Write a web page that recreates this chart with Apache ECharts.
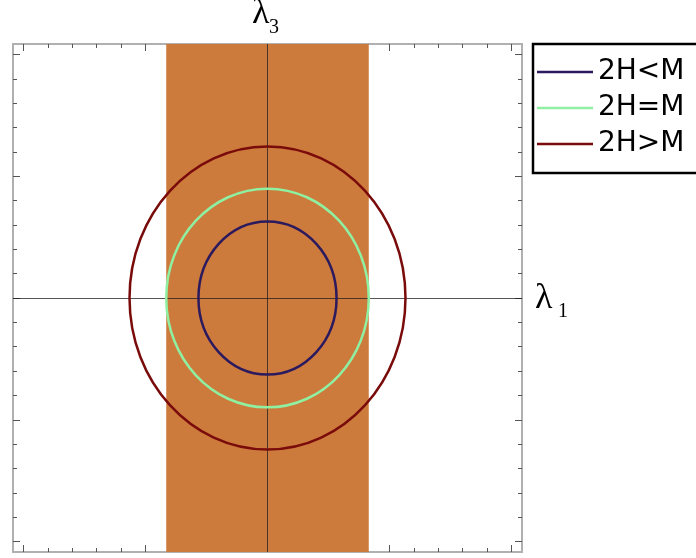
<!DOCTYPE html>
<html>
<head>
<meta charset="utf-8">
<script src="https://cdn.jsdelivr.net/npm/echarts@6/dist/echarts.min.js"></script>
<style>
  html, body { margin: 0; padding: 0; background: #fff; }
  #chart { width: 696px; height: 558px; }
</style>
</head>
<body>
<div id="chart"></div>
<script>
// data
const seriesNames = ["2H<M", "2H=M", "2H>M"];
const seriesColors = ["#2b1a5e", "#8ff0a2", "#7a0b0b"];
const radiusX = [0.566, 0.83, 1.131];
const radiusY = [0.629, 0.898, 1.245];
const bandHalfWidth = [0.83];
const axisMin = -2.086;
const axisMax = 2.086;
const majorTicks = [-2, -1, 0, 1, 2];
const minorTicks = [-1.8, -1.6, -1.4, -1.2, -0.8, -0.6, -0.4, -0.2,
  0.2, 0.4, 0.6, 0.8, 1.2, 1.4, 1.6, 1.8];

let myChart = echarts.init(document.getElementById("chart"));

function frameAxis(pos, values, len, showLine) {
  return {
    type: "value",
    position: pos,
    min: axisMin,
    max: axisMax,
    axisLine: { show: showLine, onZero: false, lineStyle: { color: "#b0b0b0", width: 2 } },
    axisTick: {
      show: true,
      inside: true,
      length: len,
      customValues: values,
      lineStyle: { color: "#555", width: 1 },
    },
    axisLabel: { show: false },
    splitLine: { show: false },
    minorTick: { show: false },
  };
}

function ellipseSeries(i) {
  return {
    type: "custom",
    name: seriesNames[i],
    xAxisIndex: 0,
    yAxisIndex: 0,
    z: 5,
    itemStyle: { color: seriesColors[i] },
    data: [[0, 0, radiusX[i], radiusY[i]]],
    renderItem: function (params, api) {
      const c = api.coord([api.value(0), api.value(1)]);
      const s = api.size([api.value(2), api.value(3)]);
      return {
        type: "ellipse",
        shape: { cx: c[0], cy: c[1], rx: s[0], ry: s[1] },
        style: { fill: "none", stroke: seriesColors[i], lineWidth: 2.5 },
      };
    },
  };
}

const bandSeries = {
  type: "custom",
  name: "band",
  xAxisIndex: 0,
  yAxisIndex: 0,
  z: 1,
  data: bandHalfWidth.map(w => [-w, w]),
  renderItem: function (params, api) {
    const p0 = api.coord([api.value(0), axisMax]);
    const p1 = api.coord([api.value(1), axisMin]);
    return {
      type: "rect",
      shape: { x: p0[0], y: p0[1], width: p1[0] - p0[0], height: p1[1] - p0[1] },
      style: { fill: "#cd7a3d" },
    };
  },
  markLine: {
    silent: true,
    symbol: "none",
    label: { show: false },
    lineStyle: { color: "rgba(30,30,30,0.75)", width: 1, type: "solid" },
    data: [{ xAxis: 0 }, { yAxis: 0 }],
  },
};

const option = {
  animation: false,
  backgroundColor: "#fff",
  grid: { left: 13, top: 44, width: 509, height: 508 },
  xAxis: [
    frameAxis("bottom", majorTicks, 7, true),
    frameAxis("bottom", minorTicks, 4, false),
    frameAxis("top", majorTicks, 7, true),
    frameAxis("top", minorTicks, 4, false),
  ],
  yAxis: [
    frameAxis("left", majorTicks, 7, true),
    frameAxis("left", minorTicks, 4, false),
    frameAxis("right", majorTicks, 7, true),
    frameAxis("right", minorTicks, 4, false),
  ],
  legend: {
    data: seriesNames,
    orient: "vertical",
    left: 533,
    top: 44,
    icon: "rect",
    itemWidth: 56,
    itemHeight: 2.5,
    itemGap: 8,
    padding: [14, 14, 15, 4],
    borderColor: "#000",
    borderWidth: 2.5,
    selectedMode: false,
    textStyle: { fontSize: 28, fontFamily: "DejaVu Sans", color: "#000" },
  },
  graphic: [
    { type: "text", x: 252, y: 14, style: { text: "λ", fontSize: 36, fontFamily: "Liberation Serif", fill: "#000", verticalAlign: "middle" } },
    { type: "text", x: 269, y: 28, style: { text: "3", fontSize: 20, fontFamily: "Liberation Serif", fill: "#000", verticalAlign: "middle" } },
    { type: "text", x: 535, y: 299, style: { text: "λ", fontSize: 36, fontFamily: "Liberation Serif", fill: "#000", verticalAlign: "middle" } },
    { type: "text", x: 558, y: 312, style: { text: "1", fontSize: 20, fontFamily: "Liberation Serif", fill: "#000", verticalAlign: "middle" } },
  ],
  series: [bandSeries, ellipseSeries(0), ellipseSeries(1), ellipseSeries(2)],
};

myChart.setOption(option);

window.onresize = function () {
  myChart.resize();
};
</script>
</body>
</html>
